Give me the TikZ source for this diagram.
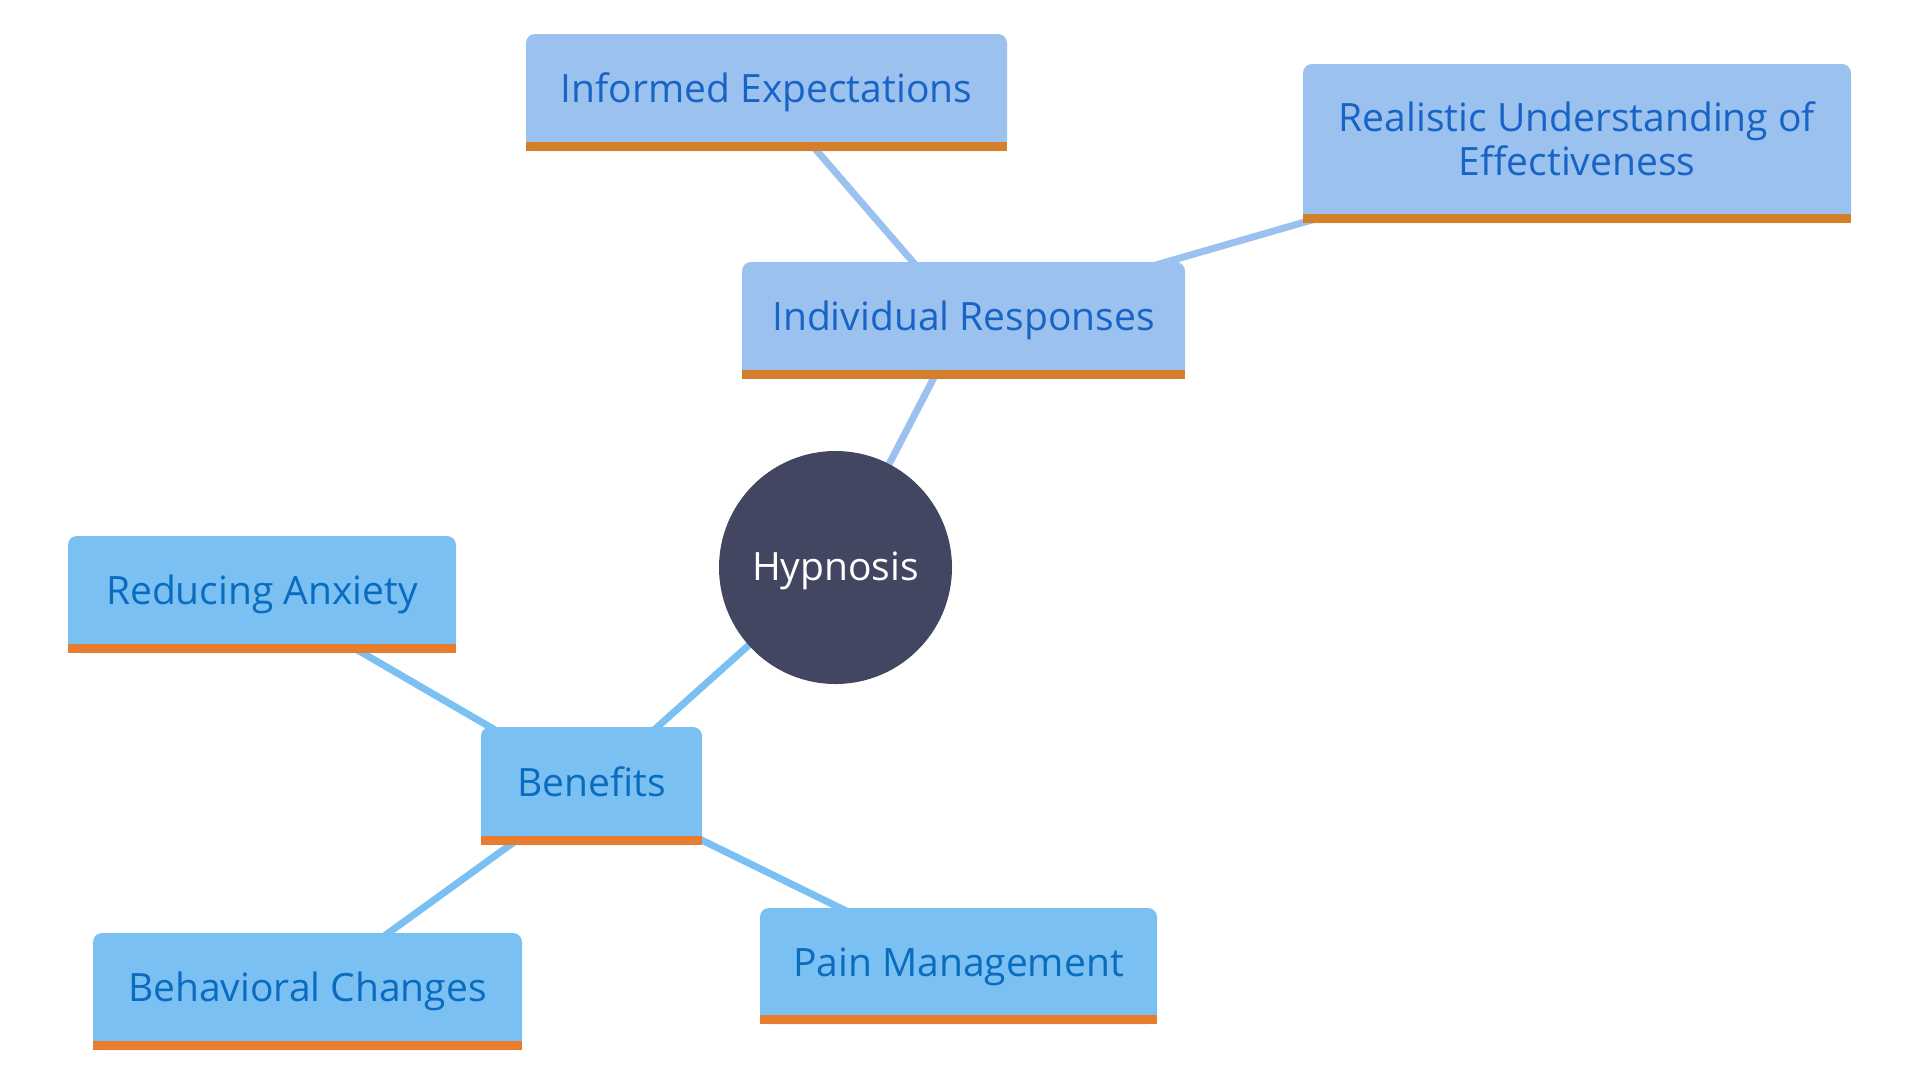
\documentclass[tikz,border=0pt]{standalone}
\usepackage{fontspec}
\setmainfont{Open Sans}
\usetikzlibrary{backgrounds}
\definecolor{topfill}{HTML}{9BC2EF}
\definecolor{toptext}{HTML}{1763C6}
\definecolor{topbar}{HTML}{D4802A}
\definecolor{botfill}{HTML}{7BC0F2}
\definecolor{bottext}{HTML}{0A6CBF}
\definecolor{botbar}{HTML}{E97D2E}
\definecolor{hypfill}{HTML}{424660}
\tikzset{
  box/.style={rectangle, rounded corners=9pt, inner sep=0pt, text height=25pt, text depth=5pt,
    font=\fontsize{39}{44}\selectfont, align=center},
  topbox/.style={box, fill=topfill, text=toptext},
  botbox/.style={box, fill=botfill, text=bottext},
  topedge/.style={draw=topfill, line width=7pt},
  botedge/.style={draw=botfill, line width=7pt},
  hypnode/.style={circle, fill=hypfill, text=white, inner sep=0pt, minimum size=233pt,
    font=\fontsize{39}{44}\selectfont, text height=30pt, text depth=5pt},
  multitext/.style={inner sep=0pt, align=center, font=\fontsize{39}{44}\selectfont}
}
\begin{document}
\begin{tikzpicture}[x=1pt,y=-1pt]
\useasboundingbox (0,0) rectangle (1920,1080);
\node[hypnode] (hyp) at (835.5,567.5) {Hypnosis};
\node[topbox, minimum width=481pt, minimum height=117pt] (inf) at (766.5,92.5) {Informed Expectations};
\node[topbox, minimum width=548pt, minimum height=159pt] (real) at (1577,143.5) {};
\node[multitext, text=toptext] (realtxt) at ([yshift=5pt]real.center) {Realistic Understanding of\\Effectiveness};
\node[topbox, minimum width=443pt, minimum height=117pt] (ind) at (963.5,320.5) {Individual Responses};
\node[botbox, minimum width=388pt, minimum height=117pt] (red) at (262,594.5) {Reducing Anxiety};
\node[botbox, minimum width=221pt, minimum height=118pt] (ben) at (591.5,786) {Benefits};
\node[botbox, minimum width=429pt, minimum height=117pt] (beh) at (307.5,991.5) {Behavioral Changes};
\node[botbox, minimum width=397pt, minimum height=116pt] (pain) at (958.5,966) {Pain Management};
\foreach \n/\c in {inf/topbar, real/topbar, ind/topbar, red/botbar, ben/botbar, beh/botbar, pain/botbar}
  \fill[\c] (\n.south west) rectangle ([yshift=9pt]\n.south east);
\begin{scope}[on background layer]
  \draw[topedge] (hyp.center) -- (ind.center);
  \draw[topedge] (ind.center) -- (inf.center);
  \draw[topedge] (ind.center) -- (real.center);
  \draw[botedge] (hyp.center) -- (ben.center);
  \draw[botedge] (ben.center) -- (red.center);
  \draw[botedge] (ben.center) -- (beh.center);
  \draw[botedge] (ben.center) -- (pain.center);
\end{scope}
\end{tikzpicture}
\end{document}
